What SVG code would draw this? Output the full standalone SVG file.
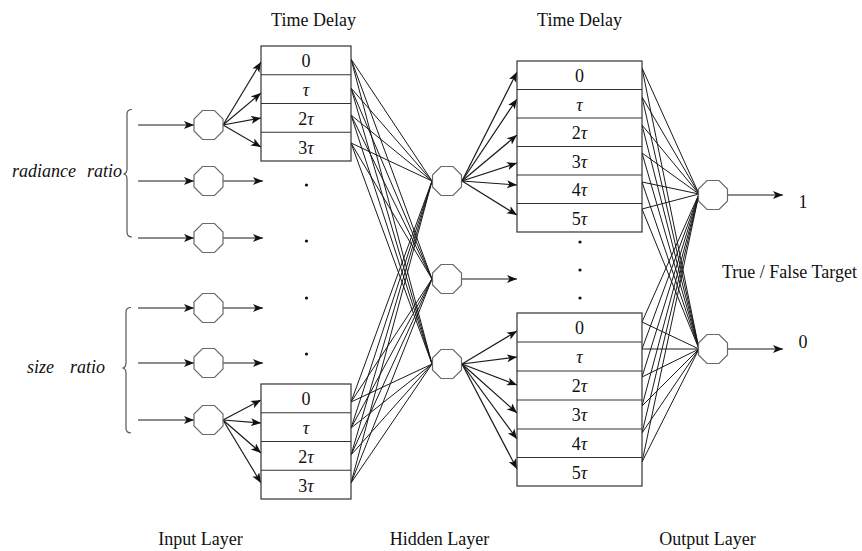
<svg xmlns="http://www.w3.org/2000/svg" xmlns:xlink="http://www.w3.org/1999/xlink" width="862" height="551" viewBox="0 0 862 551">
<style>
.t{font-family:"Liberation Serif","Times New Roman",serif;font-size:18px;fill:#111}
.c{text-anchor:middle}
.i{font-style:italic}
.ln{stroke:#1a1a1a;stroke-width:1;fill:none}
.ar{stroke:#1a1a1a;stroke-width:1.2;fill:none;marker-end:url(#ah)}
.oct{fill:#fff;stroke:#6a6a6a;stroke-width:1.2}
.box{fill:#fff;stroke:#333;stroke-width:1.2}
.div{stroke:#333;stroke-width:1.2}
.br{stroke:#555;stroke-width:1.2;fill:none}
.dot{fill:#111}
</style>
<defs>
<marker id="ah" markerUnits="userSpaceOnUse" markerWidth="11" markerHeight="9" refX="10" refY="4" orient="auto">
<path d="M0,0 L10,4 L0,8 L2.5,4 Z" fill="#111"/>
</marker>
<polygon id="octa" points="-6,-14.5 6,-14.5 14.5,-6 14.5,6 6,14.5 -6,14.5 -14.5,6 -14.5,-6"/>
</defs>
<rect width="862" height="551" fill="#fff"/>

<!-- labels -->
<text class="t c" x="313.5" y="26">Time Delay</text>
<text class="t c" x="579.5" y="26">Time Delay</text>
<text class="t c" x="200.5" y="545">Input Layer</text>
<text class="t c" x="439.5" y="545">Hidden Layer</text>
<text class="t c" x="707.5" y="545">Output Layer</text>
<text class="t" x="722" y="278">True / False Target</text>
<text class="t c" x="803" y="208">1</text>
<text class="t c" x="803" y="348">0</text>
<text class="t i" y="177"><tspan x="12">radiance</tspan><tspan x="87">ratio</tspan></text>
<text class="t i" y="373"><tspan x="27">size</tspan><tspan x="70">ratio</tspan></text>

<!-- braces -->
<path class="br" d="M132,109.5 Q127,109.5 127,114 L127,169 Q127,173.5 123.5,174 Q127,174.5 127,179 L127,232 Q127,237 132,237"/>
<path class="br" d="M131,307.5 Q126,307.5 126,312 L126,363 Q126,367.5 122.5,368 Q126,368.5 126,373 L126,428 Q126,433 131,433"/>

<!-- dots -->
<circle class="dot" cx="306.5" cy="185" r="1.6"/>
<circle class="dot" cx="306.5" cy="241" r="1.6"/>
<circle class="dot" cx="306.5" cy="298" r="1.6"/>
<circle class="dot" cx="306.5" cy="354" r="1.6"/>
<circle class="dot" cx="580" cy="242" r="1.6"/>
<circle class="dot" cx="580" cy="270" r="1.6"/>
<circle class="dot" cx="580" cy="298" r="1.6"/>

<g id="connectors">
<!-- inputs -->
<line class="ar" x1="138" y1="125" x2="194" y2="125"/>
<line class="ar" x1="138" y1="181" x2="194" y2="181"/>
<line class="ar" x1="138" y1="238" x2="194" y2="238"/>
<line class="ar" x1="138" y1="308" x2="194" y2="308"/>
<line class="ar" x1="138" y1="363" x2="194" y2="363"/>
<line class="ar" x1="138" y1="420" x2="194" y2="420"/>
<!-- input to delay -->
<line class="ar" x1="223" y1="125" x2="261" y2="62"/>
<line class="ar" x1="223" y1="125" x2="261" y2="93"/>
<line class="ar" x1="223" y1="125" x2="261" y2="118"/>
<line class="ar" x1="223" y1="125" x2="261" y2="147"/>
<line class="ar" x1="223" y1="181" x2="263" y2="181"/>
<line class="ar" x1="223" y1="238" x2="263" y2="238"/>
<line class="ar" x1="223" y1="308" x2="263" y2="308"/>
<line class="ar" x1="223" y1="363" x2="263" y2="363"/>
<line class="ar" x1="223" y1="420" x2="261" y2="400"/>
<line class="ar" x1="223" y1="420" x2="261" y2="423"/>
<line class="ar" x1="223" y1="420" x2="261" y2="453"/>
<line class="ar" x1="223" y1="420" x2="261" y2="483"/>
<!-- left delays to hidden -->
<g class="ln">
<line x1="351" y1="59" x2="432" y2="181"/><line x1="351" y1="59" x2="432" y2="279"/><line x1="351" y1="59" x2="432" y2="364"/>
<line x1="351" y1="88" x2="432" y2="181"/><line x1="351" y1="88" x2="432" y2="279"/><line x1="351" y1="88" x2="432" y2="364"/>
<line x1="351" y1="115" x2="432" y2="181"/><line x1="351" y1="115" x2="432" y2="279"/><line x1="351" y1="115" x2="432" y2="364"/>
<line x1="351" y1="143" x2="432" y2="181"/><line x1="351" y1="143" x2="432" y2="279"/><line x1="351" y1="143" x2="432" y2="364"/>
<line x1="351" y1="402" x2="432" y2="181"/><line x1="351" y1="402" x2="432" y2="279"/><line x1="351" y1="402" x2="432" y2="364"/>
<line x1="351" y1="428" x2="432" y2="181"/><line x1="351" y1="428" x2="432" y2="279"/><line x1="351" y1="428" x2="432" y2="364"/>
<line x1="351" y1="455" x2="432" y2="181"/><line x1="351" y1="455" x2="432" y2="279"/><line x1="351" y1="455" x2="432" y2="364"/>
<line x1="351" y1="483" x2="432" y2="181"/><line x1="351" y1="483" x2="432" y2="279"/><line x1="351" y1="483" x2="432" y2="364"/>
</g>
<!-- hidden to right delays -->
<line class="ar" x1="462" y1="181" x2="517" y2="72"/>
<line class="ar" x1="462" y1="181" x2="517" y2="99"/>
<line class="ar" x1="462" y1="181" x2="517" y2="135"/>
<line class="ar" x1="462" y1="181" x2="517" y2="163"/>
<line class="ar" x1="462" y1="181" x2="517" y2="185"/>
<line class="ar" x1="462" y1="181" x2="517" y2="215"/>
<line class="ar" x1="462" y1="279" x2="517" y2="279"/>
<line class="ar" x1="462" y1="364" x2="517" y2="331"/>
<line class="ar" x1="462" y1="364" x2="517" y2="357"/>
<line class="ar" x1="462" y1="364" x2="517" y2="385"/>
<line class="ar" x1="462" y1="364" x2="517" y2="413"/>
<line class="ar" x1="462" y1="364" x2="517" y2="439"/>
<line class="ar" x1="462" y1="364" x2="517" y2="469"/>
<!-- right delays to output -->
<g class="ln">
<line x1="642" y1="68" x2="699" y2="194"/><line x1="642" y1="68" x2="699" y2="349"/>
<line x1="642" y1="97" x2="699" y2="194"/><line x1="642" y1="97" x2="699" y2="349"/>
<line x1="642" y1="125" x2="699" y2="194"/><line x1="642" y1="125" x2="699" y2="349"/>
<line x1="642" y1="153" x2="699" y2="194"/><line x1="642" y1="153" x2="699" y2="349"/>
<line x1="642" y1="182" x2="699" y2="194"/><line x1="642" y1="182" x2="699" y2="349"/>
<line x1="642" y1="209" x2="699" y2="194"/><line x1="642" y1="209" x2="699" y2="349"/>
<line x1="642" y1="322" x2="699" y2="194"/><line x1="642" y1="322" x2="699" y2="349"/>
<line x1="642" y1="349" x2="699" y2="194"/><line x1="642" y1="349" x2="699" y2="349"/>
<line x1="642" y1="377" x2="699" y2="194"/><line x1="642" y1="377" x2="699" y2="349"/>
<line x1="642" y1="406" x2="699" y2="194"/><line x1="642" y1="406" x2="699" y2="349"/>
<line x1="642" y1="433" x2="699" y2="194"/><line x1="642" y1="433" x2="699" y2="349"/>
<line x1="642" y1="462" x2="699" y2="194"/><line x1="642" y1="462" x2="699" y2="349"/>
</g>
<!-- outputs -->
<line class="ar" x1="728" y1="195" x2="783" y2="195"/>
<line class="ar" x1="728" y1="349" x2="783" y2="349"/>
</g>

<!-- input neurons -->
<g id="in1"><use xlink:href="#octa" class="oct" x="208.5" y="125"/></g>
<g id="in2"><use xlink:href="#octa" class="oct" x="208.5" y="181"/></g>
<g id="in3"><use xlink:href="#octa" class="oct" x="208.5" y="238"/></g>
<g id="in4"><use xlink:href="#octa" class="oct" x="208.5" y="308"/></g>
<g id="in5"><use xlink:href="#octa" class="oct" x="208.5" y="363"/></g>
<g id="in6"><use xlink:href="#octa" class="oct" x="208.5" y="420"/></g>
<!-- hidden neurons -->
<g id="h1"><use xlink:href="#octa" class="oct" x="447" y="181"/></g>
<g id="h2"><use xlink:href="#octa" class="oct" x="447" y="279"/></g>
<g id="h3"><use xlink:href="#octa" class="oct" x="447" y="364"/></g>
<!-- output neurons -->
<g id="o1"><use xlink:href="#octa" class="oct" x="713" y="195"/></g>
<g id="o2"><use xlink:href="#octa" class="oct" x="713" y="349"/></g>

<!-- left delay boxes -->
<g id="delayL1">
<rect class="box" x="261" y="46" width="90" height="115"/>
<line class="div" x1="261" y1="74.75" x2="351" y2="74.75"/>
<line class="div" x1="261" y1="103.5" x2="351" y2="103.5"/>
<line class="div" x1="261" y1="132.25" x2="351" y2="132.25"/>
<text class="t c" x="306" y="67">0</text>
<text class="t c" x="306" y="96"><tspan class="i">τ</tspan></text>
<text class="t c" x="306" y="125">2<tspan class="i">τ</tspan></text>
<text class="t c" x="306" y="153.5">3<tspan class="i">τ</tspan></text>
</g>
<g id="delayL2">
<rect class="box" x="261" y="384" width="90" height="115"/>
<line class="div" x1="261" y1="412.75" x2="351" y2="412.75"/>
<line class="div" x1="261" y1="441.5" x2="351" y2="441.5"/>
<line class="div" x1="261" y1="470.25" x2="351" y2="470.25"/>
<text class="t c" x="306" y="405">0</text>
<text class="t c" x="306" y="434"><tspan class="i">τ</tspan></text>
<text class="t c" x="306" y="463">2<tspan class="i">τ</tspan></text>
<text class="t c" x="306" y="491.5">3<tspan class="i">τ</tspan></text>
</g>
<!-- right delay boxes -->
<g id="delayR1">
<rect class="box" x="517" y="61" width="125" height="171"/>
<line class="div" x1="517" y1="89.5" x2="642" y2="89.5"/>
<line class="div" x1="517" y1="118" x2="642" y2="118"/>
<line class="div" x1="517" y1="146.5" x2="642" y2="146.5"/>
<line class="div" x1="517" y1="175" x2="642" y2="175"/>
<line class="div" x1="517" y1="203.5" x2="642" y2="203.5"/>
<text class="t c" x="579.5" y="82">0</text>
<text class="t c" x="579.5" y="110.5"><tspan class="i">τ</tspan></text>
<text class="t c" x="579.5" y="139">2<tspan class="i">τ</tspan></text>
<text class="t c" x="579.5" y="167.5">3<tspan class="i">τ</tspan></text>
<text class="t c" x="579.5" y="196">4<tspan class="i">τ</tspan></text>
<text class="t c" x="579.5" y="224.5">5<tspan class="i">τ</tspan></text>
</g>
<g id="delayR2">
<rect class="box" x="517" y="313" width="125" height="173"/>
<line class="div" x1="517" y1="342" x2="642" y2="342"/>
<line class="div" x1="517" y1="371" x2="642" y2="371"/>
<line class="div" x1="517" y1="400" x2="642" y2="400"/>
<line class="div" x1="517" y1="429" x2="642" y2="429"/>
<line class="div" x1="517" y1="457.5" x2="642" y2="457.5"/>
<text class="t c" x="579.5" y="334">0</text>
<text class="t c" x="579.5" y="363"><tspan class="i">τ</tspan></text>
<text class="t c" x="579.5" y="392">2<tspan class="i">τ</tspan></text>
<text class="t c" x="579.5" y="421">3<tspan class="i">τ</tspan></text>
<text class="t c" x="579.5" y="450">4<tspan class="i">τ</tspan></text>
<text class="t c" x="579.5" y="478.5">5<tspan class="i">τ</tspan></text>
</g>
</svg>
